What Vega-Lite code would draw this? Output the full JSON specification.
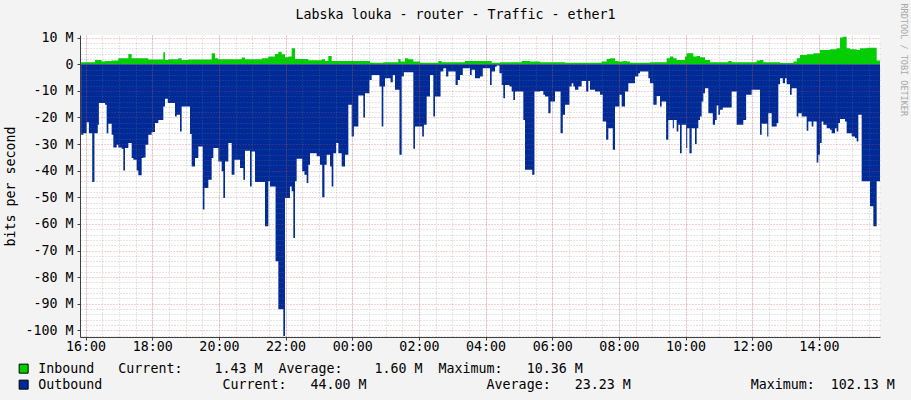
{
  "$schema": "https://vega.github.io/schema/vega-lite/v6.json",
  "width": 800,
  "height": 302,
  "autosize": {"type": "none"},
  "padding": {"left": 80, "top": 35, "right": 31, "bottom": 63},
  "background": "#F3F3F3",
  "config": {"view": {"stroke": null, "fill": "#FFFFFF"}},
  "data": {"values": [
    {"time":"2024-01-01T15:52","series":"Inbound","mbps":0.75},
    {"time":"2024-01-01T16:17","series":"Inbound","mbps":1.6},
    {"time":"2024-01-01T16:29","series":"Inbound","mbps":1.0},
    {"time":"2024-01-01T16:35","series":"Inbound","mbps":1.25},
    {"time":"2024-01-01T16:47","series":"Inbound","mbps":1.4},
    {"time":"2024-01-01T16:59","series":"Inbound","mbps":2.25},
    {"time":"2024-01-01T17:17","series":"Inbound","mbps":3.9},
    {"time":"2024-01-01T17:23","series":"Inbound","mbps":2.25},
    {"time":"2024-01-01T17:53","series":"Inbound","mbps":1.75},
    {"time":"2024-01-01T18:20","series":"Inbound","mbps":4.5},
    {"time":"2024-01-01T18:23","series":"Inbound","mbps":1.6},
    {"time":"2024-01-01T18:29","series":"Inbound","mbps":1.9},
    {"time":"2024-01-01T18:47","series":"Inbound","mbps":2.25},
    {"time":"2024-01-01T18:53","series":"Inbound","mbps":1.6},
    {"time":"2024-01-01T19:05","series":"Inbound","mbps":1.75},
    {"time":"2024-01-01T19:47","series":"Inbound","mbps":4.1},
    {"time":"2024-01-01T19:53","series":"Inbound","mbps":2.25},
    {"time":"2024-01-01T19:59","series":"Inbound","mbps":1.9},
    {"time":"2024-01-01T20:41","series":"Inbound","mbps":2.5},
    {"time":"2024-01-01T20:47","series":"Inbound","mbps":1.9},
    {"time":"2024-01-01T21:17","series":"Inbound","mbps":2.25},
    {"time":"2024-01-01T21:29","series":"Inbound","mbps":2.9},
    {"time":"2024-01-01T21:41","series":"Inbound","mbps":3.9},
    {"time":"2024-01-01T21:47","series":"Inbound","mbps":4.75},
    {"time":"2024-01-01T21:53","series":"Inbound","mbps":3.75},
    {"time":"2024-01-01T21:59","series":"Inbound","mbps":2.6},
    {"time":"2024-01-01T22:05","series":"Inbound","mbps":2.9},
    {"time":"2024-01-01T22:11","series":"Inbound","mbps":6.0},
    {"time":"2024-01-01T22:17","series":"Inbound","mbps":2.0},
    {"time":"2024-01-01T22:41","series":"Inbound","mbps":1.5},
    {"time":"2024-01-01T23:05","series":"Inbound","mbps":1.9},
    {"time":"2024-01-01T23:11","series":"Inbound","mbps":1.25},
    {"time":"2024-01-01T23:17","series":"Inbound","mbps":3.1},
    {"time":"2024-01-01T23:23","series":"Inbound","mbps":1.25},
    {"time":"2024-01-02T00:32","series":"Inbound","mbps":0.6},
    {"time":"2024-01-02T00:56","series":"Inbound","mbps":0.75},
    {"time":"2024-01-02T01:23","series":"Inbound","mbps":2.0},
    {"time":"2024-01-02T01:27","series":"Inbound","mbps":1.0},
    {"time":"2024-01-02T01:35","series":"Inbound","mbps":2.25},
    {"time":"2024-01-02T01:41","series":"Inbound","mbps":1.9},
    {"time":"2024-01-02T01:50","series":"Inbound","mbps":1.0},
    {"time":"2024-01-02T02:02","series":"Inbound","mbps":0.6},
    {"time":"2024-01-02T02:35","series":"Inbound","mbps":1.25},
    {"time":"2024-01-02T02:41","series":"Inbound","mbps":0.75},
    {"time":"2024-01-02T03:23","series":"Inbound","mbps":1.25},
    {"time":"2024-01-02T04:11","series":"Inbound","mbps":0.6},
    {"time":"2024-01-02T04:26","series":"Inbound","mbps":0.75},
    {"time":"2024-01-02T05:05","series":"Inbound","mbps":1.25},
    {"time":"2024-01-02T05:20","series":"Inbound","mbps":1.0},
    {"time":"2024-01-02T05:38","series":"Inbound","mbps":0.75},
    {"time":"2024-01-02T06:23","series":"Inbound","mbps":0.6},
    {"time":"2024-01-02T07:29","series":"Inbound","mbps":1.0},
    {"time":"2024-01-02T07:38","series":"Inbound","mbps":2.0},
    {"time":"2024-01-02T07:44","series":"Inbound","mbps":2.25},
    {"time":"2024-01-02T07:53","series":"Inbound","mbps":1.25},
    {"time":"2024-01-02T07:59","series":"Inbound","mbps":1.0},
    {"time":"2024-01-02T08:08","series":"Inbound","mbps":1.25},
    {"time":"2024-01-02T08:14","series":"Inbound","mbps":1.0},
    {"time":"2024-01-02T08:20","series":"Inbound","mbps":0.6},
    {"time":"2024-01-02T08:56","series":"Inbound","mbps":0.75},
    {"time":"2024-01-02T09:26","series":"Inbound","mbps":2.25},
    {"time":"2024-01-02T09:32","series":"Inbound","mbps":2.9},
    {"time":"2024-01-02T09:38","series":"Inbound","mbps":2.25},
    {"time":"2024-01-02T09:44","series":"Inbound","mbps":1.6},
    {"time":"2024-01-02T09:59","series":"Inbound","mbps":2.9},
    {"time":"2024-01-02T10:02","series":"Inbound","mbps":4.1},
    {"time":"2024-01-02T10:14","series":"Inbound","mbps":2.9},
    {"time":"2024-01-02T10:20","series":"Inbound","mbps":3.1},
    {"time":"2024-01-02T10:26","series":"Inbound","mbps":2.6},
    {"time":"2024-01-02T10:35","series":"Inbound","mbps":1.6},
    {"time":"2024-01-02T10:44","series":"Inbound","mbps":0.75},
    {"time":"2024-01-02T11:17","series":"Inbound","mbps":1.25},
    {"time":"2024-01-02T11:23","series":"Inbound","mbps":0.75},
    {"time":"2024-01-02T12:08","series":"Inbound","mbps":1.4},
    {"time":"2024-01-02T12:14","series":"Inbound","mbps":1.6},
    {"time":"2024-01-02T12:20","series":"Inbound","mbps":0.75},
    {"time":"2024-01-02T12:50","series":"Inbound","mbps":0.5},
    {"time":"2024-01-02T13:14","series":"Inbound","mbps":1.0},
    {"time":"2024-01-02T13:20","series":"Inbound","mbps":2.25},
    {"time":"2024-01-02T13:26","series":"Inbound","mbps":3.5},
    {"time":"2024-01-02T13:38","series":"Inbound","mbps":3.75},
    {"time":"2024-01-02T13:50","series":"Inbound","mbps":4.1},
    {"time":"2024-01-02T14:02","series":"Inbound","mbps":5.4},
    {"time":"2024-01-02T14:20","series":"Inbound","mbps":5.6},
    {"time":"2024-01-02T14:32","series":"Inbound","mbps":6.0},
    {"time":"2024-01-02T14:38","series":"Inbound","mbps":10.1},
    {"time":"2024-01-02T14:43","series":"Inbound","mbps":10.36},
    {"time":"2024-01-02T14:50","series":"Inbound","mbps":6.0},
    {"time":"2024-01-02T14:56","series":"Inbound","mbps":5.6},
    {"time":"2024-01-02T15:08","series":"Inbound","mbps":5.4},
    {"time":"2024-01-02T15:14","series":"Inbound","mbps":6.0},
    {"time":"2024-01-02T15:26","series":"Inbound","mbps":6.25},
    {"time":"2024-01-02T15:44","series":"Inbound","mbps":1.43},
    {"time":"2024-01-02T15:50","series":"Inbound","mbps":1.43},

    {"time":"2024-01-01T15:52","series":"Outbound","mbps":-26.5},
    {"time":"2024-01-01T15:56","series":"Outbound","mbps":-25.9},
    {"time":"2024-01-01T16:02","series":"Outbound","mbps":-21.75},
    {"time":"2024-01-01T16:06","series":"Outbound","mbps":-25.9},
    {"time":"2024-01-01T16:12","series":"Outbound","mbps":-44.25},
    {"time":"2024-01-01T16:16","series":"Outbound","mbps":-25.9},
    {"time":"2024-01-01T16:22","series":"Outbound","mbps":-22.75},
    {"time":"2024-01-01T16:24","series":"Outbound","mbps":-14.6},
    {"time":"2024-01-01T16:35","series":"Outbound","mbps":-15.25},
    {"time":"2024-01-01T16:38","series":"Outbound","mbps":-25.9},
    {"time":"2024-01-01T16:41","series":"Outbound","mbps":-22.4},
    {"time":"2024-01-01T16:47","series":"Outbound","mbps":-26.5},
    {"time":"2024-01-01T16:50","series":"Outbound","mbps":-31.25},
    {"time":"2024-01-01T16:56","series":"Outbound","mbps":-30.25},
    {"time":"2024-01-01T16:59","series":"Outbound","mbps":-31.25},
    {"time":"2024-01-01T17:05","series":"Outbound","mbps":-31.75},
    {"time":"2024-01-01T17:08","series":"Outbound","mbps":-39.9},
    {"time":"2024-01-01T17:11","series":"Outbound","mbps":-31.5},
    {"time":"2024-01-01T17:17","series":"Outbound","mbps":-29.6},
    {"time":"2024-01-01T17:23","series":"Outbound","mbps":-35.25},
    {"time":"2024-01-01T17:26","series":"Outbound","mbps":-35.9},
    {"time":"2024-01-01T17:32","series":"Outbound","mbps":-39.9},
    {"time":"2024-01-01T17:35","series":"Outbound","mbps":-41.75},
    {"time":"2024-01-01T17:41","series":"Outbound","mbps":-35.25},
    {"time":"2024-01-01T17:44","series":"Outbound","mbps":-35.0},
    {"time":"2024-01-01T17:48","series":"Outbound","mbps":-30.25},
    {"time":"2024-01-01T17:53","series":"Outbound","mbps":-26.5},
    {"time":"2024-01-01T17:59","series":"Outbound","mbps":-25.5},
    {"time":"2024-01-01T18:05","series":"Outbound","mbps":-22.1},
    {"time":"2024-01-01T18:11","series":"Outbound","mbps":-20.9},
    {"time":"2024-01-01T18:20","series":"Outbound","mbps":-15.9},
    {"time":"2024-01-01T18:23","series":"Outbound","mbps":-13.0},
    {"time":"2024-01-01T18:28","series":"Outbound","mbps":-14.6},
    {"time":"2024-01-01T18:41","series":"Outbound","mbps":-19.6},
    {"time":"2024-01-01T18:44","series":"Outbound","mbps":-19.0},
    {"time":"2024-01-01T18:50","series":"Outbound","mbps":-25.25},
    {"time":"2024-01-01T18:53","series":"Outbound","mbps":-15.9},
    {"time":"2024-01-01T19:08","series":"Outbound","mbps":-26.25},
    {"time":"2024-01-01T19:11","series":"Outbound","mbps":-38.4},
    {"time":"2024-01-01T19:17","series":"Outbound","mbps":-35.25},
    {"time":"2024-01-01T19:23","series":"Outbound","mbps":-30.9},
    {"time":"2024-01-01T19:31","series":"Outbound","mbps":-54.6},
    {"time":"2024-01-01T19:34","series":"Outbound","mbps":-46.5},
    {"time":"2024-01-01T19:41","series":"Outbound","mbps":-43.4},
    {"time":"2024-01-01T19:47","series":"Outbound","mbps":-35.25},
    {"time":"2024-01-01T19:50","series":"Outbound","mbps":-31.5},
    {"time":"2024-01-01T19:59","series":"Outbound","mbps":-36.5},
    {"time":"2024-01-01T20:05","series":"Outbound","mbps":-40.25},
    {"time":"2024-01-01T20:08","series":"Outbound","mbps":-50.25},
    {"time":"2024-01-01T20:11","series":"Outbound","mbps":-36.5},
    {"time":"2024-01-01T20:17","series":"Outbound","mbps":-29.6},
    {"time":"2024-01-01T20:23","series":"Outbound","mbps":-41.5},
    {"time":"2024-01-01T20:28","series":"Outbound","mbps":-35.9},
    {"time":"2024-01-01T20:38","series":"Outbound","mbps":-39.0},
    {"time":"2024-01-01T20:44","series":"Outbound","mbps":-43.4},
    {"time":"2024-01-01T20:47","series":"Outbound","mbps":-32.5},
    {"time":"2024-01-01T20:56","series":"Outbound","mbps":-45.9},
    {"time":"2024-01-01T20:59","series":"Outbound","mbps":-32.75},
    {"time":"2024-01-01T21:05","series":"Outbound","mbps":-44.25},
    {"time":"2024-01-01T21:23","series":"Outbound","mbps":-60.9},
    {"time":"2024-01-01T21:29","series":"Outbound","mbps":-44.0},
    {"time":"2024-01-01T21:32","series":"Outbound","mbps":-45.9},
    {"time":"2024-01-01T21:42","series":"Outbound","mbps":-74.0},
    {"time":"2024-01-01T21:47","series":"Outbound","mbps":-92.1},
    {"time":"2024-01-01T21:56","series":"Outbound","mbps":-102.13},
    {"time":"2024-01-01T21:59","series":"Outbound","mbps":-50.25},
    {"time":"2024-01-01T22:08","series":"Outbound","mbps":-45.9},
    {"time":"2024-01-01T22:11","series":"Outbound","mbps":-47.75},
    {"time":"2024-01-01T22:14","series":"Outbound","mbps":-65.25},
    {"time":"2024-01-01T22:17","series":"Outbound","mbps":-44.0},
    {"time":"2024-01-01T22:20","series":"Outbound","mbps":-35.5},
    {"time":"2024-01-01T22:30","series":"Outbound","mbps":-40.25},
    {"time":"2024-01-01T22:34","series":"Outbound","mbps":-41.5},
    {"time":"2024-01-01T22:38","series":"Outbound","mbps":-44.6},
    {"time":"2024-01-01T22:41","series":"Outbound","mbps":-37.75},
    {"time":"2024-01-01T22:44","series":"Outbound","mbps":-33.4},
    {"time":"2024-01-01T22:56","series":"Outbound","mbps":-34.6},
    {"time":"2024-01-01T23:02","series":"Outbound","mbps":-37.75},
    {"time":"2024-01-01T23:06","series":"Outbound","mbps":-50.0},
    {"time":"2024-01-01T23:10","series":"Outbound","mbps":-37.75},
    {"time":"2024-01-01T23:14","series":"Outbound","mbps":-34.0},
    {"time":"2024-01-01T23:20","series":"Outbound","mbps":-38.4},
    {"time":"2024-01-01T23:23","series":"Outbound","mbps":-45.9},
    {"time":"2024-01-01T23:26","series":"Outbound","mbps":-33.4},
    {"time":"2024-01-01T23:31","series":"Outbound","mbps":-29.6},
    {"time":"2024-01-01T23:35","series":"Outbound","mbps":-33.4},
    {"time":"2024-01-01T23:41","series":"Outbound","mbps":-38.4},
    {"time":"2024-01-01T23:47","series":"Outbound","mbps":-34.0},
    {"time":"2024-01-01T23:53","series":"Outbound","mbps":-15.25},
    {"time":"2024-01-01T23:59","series":"Outbound","mbps":-27.1},
    {"time":"2024-01-02T00:03","series":"Outbound","mbps":-23.4},
    {"time":"2024-01-02T00:11","series":"Outbound","mbps":-11.75},
    {"time":"2024-01-02T00:20","series":"Outbound","mbps":-20.0},
    {"time":"2024-01-02T00:23","series":"Outbound","mbps":-10.9},
    {"time":"2024-01-02T00:31","series":"Outbound","mbps":-5.9},
    {"time":"2024-01-02T00:35","series":"Outbound","mbps":-4.0},
    {"time":"2024-01-02T00:49","series":"Outbound","mbps":-8.4},
    {"time":"2024-01-02T00:53","series":"Outbound","mbps":-23.4},
    {"time":"2024-01-02T00:56","series":"Outbound","mbps":-8.4},
    {"time":"2024-01-02T00:59","series":"Outbound","mbps":-5.25},
    {"time":"2024-01-02T01:09","series":"Outbound","mbps":-6.75},
    {"time":"2024-01-02T01:13","series":"Outbound","mbps":-4.0},
    {"time":"2024-01-02T01:17","series":"Outbound","mbps":-9.6},
    {"time":"2024-01-02T01:25","series":"Outbound","mbps":-34.0},
    {"time":"2024-01-02T01:29","series":"Outbound","mbps":-4.6},
    {"time":"2024-01-02T01:33","series":"Outbound","mbps":-3.0},
    {"time":"2024-01-02T01:50","series":"Outbound","mbps":-31.75},
    {"time":"2024-01-02T01:53","series":"Outbound","mbps":-23.4},
    {"time":"2024-01-02T02:06","series":"Outbound","mbps":-27.1},
    {"time":"2024-01-02T02:09","series":"Outbound","mbps":-22.75},
    {"time":"2024-01-02T02:14","series":"Outbound","mbps":-12.1},
    {"time":"2024-01-02T02:20","series":"Outbound","mbps":-4.0},
    {"time":"2024-01-02T02:26","series":"Outbound","mbps":-19.6},
    {"time":"2024-01-02T02:29","series":"Outbound","mbps":-12.1},
    {"time":"2024-01-02T02:39","series":"Outbound","mbps":-2.75},
    {"time":"2024-01-02T02:44","series":"Outbound","mbps":-1.5},
    {"time":"2024-01-02T02:49","series":"Outbound","mbps":-4.6},
    {"time":"2024-01-02T02:53","series":"Outbound","mbps":-2.75},
    {"time":"2024-01-02T03:06","series":"Outbound","mbps":-7.75},
    {"time":"2024-01-02T03:10","series":"Outbound","mbps":-5.9},
    {"time":"2024-01-02T03:14","series":"Outbound","mbps":-4.0},
    {"time":"2024-01-02T03:19","series":"Outbound","mbps":-1.5},
    {"time":"2024-01-02T03:32","series":"Outbound","mbps":-4.0},
    {"time":"2024-01-02T03:35","series":"Outbound","mbps":-2.1},
    {"time":"2024-01-02T03:41","series":"Outbound","mbps":-5.25},
    {"time":"2024-01-02T03:50","series":"Outbound","mbps":-4.6},
    {"time":"2024-01-02T03:55","series":"Outbound","mbps":-1.5},
    {"time":"2024-01-02T04:08","series":"Outbound","mbps":-7.75},
    {"time":"2024-01-02T04:11","series":"Outbound","mbps":-2.75},
    {"time":"2024-01-02T04:17","series":"Outbound","mbps":-0.9},
    {"time":"2024-01-02T04:20","series":"Outbound","mbps":-0.5},
    {"time":"2024-01-02T04:25","series":"Outbound","mbps":-3.4},
    {"time":"2024-01-02T04:29","series":"Outbound","mbps":-7.75},
    {"time":"2024-01-02T04:32","series":"Outbound","mbps":-12.75},
    {"time":"2024-01-02T04:35","series":"Outbound","mbps":-7.75},
    {"time":"2024-01-02T04:43","series":"Outbound","mbps":-8.4},
    {"time":"2024-01-02T04:47","series":"Outbound","mbps":-10.25},
    {"time":"2024-01-02T04:50","series":"Outbound","mbps":-13.4},
    {"time":"2024-01-02T04:53","series":"Outbound","mbps":-10.25},
    {"time":"2024-01-02T05:08","series":"Outbound","mbps":-20.9},
    {"time":"2024-01-02T05:11","series":"Outbound","mbps":-39.6},
    {"time":"2024-01-02T05:24","series":"Outbound","mbps":-41.5},
    {"time":"2024-01-02T05:28","series":"Outbound","mbps":-10.25},
    {"time":"2024-01-02T05:38","series":"Outbound","mbps":-10.0},
    {"time":"2024-01-02T05:44","series":"Outbound","mbps":-11.5},
    {"time":"2024-01-02T05:47","series":"Outbound","mbps":-12.1},
    {"time":"2024-01-02T05:53","series":"Outbound","mbps":-18.4},
    {"time":"2024-01-02T05:57","series":"Outbound","mbps":-14.0},
    {"time":"2024-01-02T06:05","series":"Outbound","mbps":-10.25},
    {"time":"2024-01-02T06:15","series":"Outbound","mbps":-25.9},
    {"time":"2024-01-02T06:19","series":"Outbound","mbps":-19.0},
    {"time":"2024-01-02T06:23","series":"Outbound","mbps":-15.25},
    {"time":"2024-01-02T06:31","series":"Outbound","mbps":-8.4},
    {"time":"2024-01-02T06:35","series":"Outbound","mbps":-7.1},
    {"time":"2024-01-02T06:38","series":"Outbound","mbps":-8.4},
    {"time":"2024-01-02T06:41","series":"Outbound","mbps":-9.6},
    {"time":"2024-01-02T06:47","series":"Outbound","mbps":-8.4},
    {"time":"2024-01-02T06:53","series":"Outbound","mbps":-6.25},
    {"time":"2024-01-02T07:01","series":"Outbound","mbps":-10.25},
    {"time":"2024-01-02T07:05","series":"Outbound","mbps":-6.25},
    {"time":"2024-01-02T07:08","series":"Outbound","mbps":-9.6},
    {"time":"2024-01-02T07:17","series":"Outbound","mbps":-10.25},
    {"time":"2024-01-02T07:26","series":"Outbound","mbps":-11.5},
    {"time":"2024-01-02T07:31","series":"Outbound","mbps":-21.5},
    {"time":"2024-01-02T07:37","series":"Outbound","mbps":-28.4},
    {"time":"2024-01-02T07:41","series":"Outbound","mbps":-24.0},
    {"time":"2024-01-02T07:49","series":"Outbound","mbps":-32.1},
    {"time":"2024-01-02T07:53","series":"Outbound","mbps":-15.9},
    {"time":"2024-01-02T08:01","series":"Outbound","mbps":-11.5},
    {"time":"2024-01-02T08:05","series":"Outbound","mbps":-15.9},
    {"time":"2024-01-02T08:11","series":"Outbound","mbps":-10.25},
    {"time":"2024-01-02T08:17","series":"Outbound","mbps":-7.1},
    {"time":"2024-01-02T08:29","series":"Outbound","mbps":-4.6},
    {"time":"2024-01-02T08:35","series":"Outbound","mbps":-3.4},
    {"time":"2024-01-02T08:38","series":"Outbound","mbps":-2.75},
    {"time":"2024-01-02T08:53","series":"Outbound","mbps":-5.25},
    {"time":"2024-01-02T08:56","series":"Outbound","mbps":-7.1},
    {"time":"2024-01-02T09:02","series":"Outbound","mbps":-15.25},
    {"time":"2024-01-02T09:08","series":"Outbound","mbps":-11.9},
    {"time":"2024-01-02T09:14","series":"Outbound","mbps":-15.9},
    {"time":"2024-01-02T09:17","series":"Outbound","mbps":-14.0},
    {"time":"2024-01-02T09:25","series":"Outbound","mbps":-28.4},
    {"time":"2024-01-02T09:29","series":"Outbound","mbps":-20.9},
    {"time":"2024-01-02T09:37","series":"Outbound","mbps":-24.0},
    {"time":"2024-01-02T09:39","series":"Outbound","mbps":-20.9},
    {"time":"2024-01-02T09:44","series":"Outbound","mbps":-25.25},
    {"time":"2024-01-02T09:47","series":"Outbound","mbps":-22.75},
    {"time":"2024-01-02T09:50","series":"Outbound","mbps":-33.4},
    {"time":"2024-01-02T09:53","series":"Outbound","mbps":-22.75},
    {"time":"2024-01-02T10:01","series":"Outbound","mbps":-31.5},
    {"time":"2024-01-02T10:03","series":"Outbound","mbps":-24.0},
    {"time":"2024-01-02T10:07","series":"Outbound","mbps":-33.4},
    {"time":"2024-01-02T10:11","series":"Outbound","mbps":-24.0},
    {"time":"2024-01-02T10:17","series":"Outbound","mbps":-30.0},
    {"time":"2024-01-02T10:20","series":"Outbound","mbps":-24.0},
    {"time":"2024-01-02T10:23","series":"Outbound","mbps":-20.9},
    {"time":"2024-01-02T10:26","series":"Outbound","mbps":-19.6},
    {"time":"2024-01-02T10:29","series":"Outbound","mbps":-14.0},
    {"time":"2024-01-02T10:32","series":"Outbound","mbps":-10.9},
    {"time":"2024-01-02T10:35","series":"Outbound","mbps":-9.0},
    {"time":"2024-01-02T10:41","series":"Outbound","mbps":-18.4},
    {"time":"2024-01-02T10:49","series":"Outbound","mbps":-22.75},
    {"time":"2024-01-02T10:53","series":"Outbound","mbps":-20.9},
    {"time":"2024-01-02T10:56","series":"Outbound","mbps":-15.5},
    {"time":"2024-01-02T10:59","series":"Outbound","mbps":-19.0},
    {"time":"2024-01-02T11:02","series":"Outbound","mbps":-17.1},
    {"time":"2024-01-02T11:07","series":"Outbound","mbps":-16.25},
    {"time":"2024-01-02T11:23","series":"Outbound","mbps":-10.25},
    {"time":"2024-01-02T11:32","series":"Outbound","mbps":-22.75},
    {"time":"2024-01-02T11:44","series":"Outbound","mbps":-20.9},
    {"time":"2024-01-02T11:49","series":"Outbound","mbps":-11.5},
    {"time":"2024-01-02T11:59","series":"Outbound","mbps":-9.6},
    {"time":"2024-01-02T12:14","series":"Outbound","mbps":-26.5},
    {"time":"2024-01-02T12:17","series":"Outbound","mbps":-22.4},
    {"time":"2024-01-02T12:27","series":"Outbound","mbps":-27.1},
    {"time":"2024-01-02T12:29","series":"Outbound","mbps":-18.4},
    {"time":"2024-01-02T12:35","series":"Outbound","mbps":-23.4},
    {"time":"2024-01-02T12:44","series":"Outbound","mbps":-22.1},
    {"time":"2024-01-02T12:47","series":"Outbound","mbps":-7.5},
    {"time":"2024-01-02T12:50","series":"Outbound","mbps":-5.25},
    {"time":"2024-01-02T12:55","series":"Outbound","mbps":-7.1},
    {"time":"2024-01-02T12:59","series":"Outbound","mbps":-5.25},
    {"time":"2024-01-02T13:02","series":"Outbound","mbps":-7.5},
    {"time":"2024-01-02T13:08","series":"Outbound","mbps":-11.5},
    {"time":"2024-01-02T13:11","series":"Outbound","mbps":-9.0},
    {"time":"2024-01-02T13:20","series":"Outbound","mbps":-19.6},
    {"time":"2024-01-02T13:23","series":"Outbound","mbps":-18.4},
    {"time":"2024-01-02T13:29","series":"Outbound","mbps":-19.6},
    {"time":"2024-01-02T13:38","series":"Outbound","mbps":-25.0},
    {"time":"2024-01-02T13:41","series":"Outbound","mbps":-21.5},
    {"time":"2024-01-02T13:47","series":"Outbound","mbps":-23.4},
    {"time":"2024-01-02T13:50","series":"Outbound","mbps":-21.5},
    {"time":"2024-01-02T13:56","series":"Outbound","mbps":-36.9},
    {"time":"2024-01-02T13:59","series":"Outbound","mbps":-34.0},
    {"time":"2024-01-02T14:02","series":"Outbound","mbps":-29.6},
    {"time":"2024-01-02T14:05","series":"Outbound","mbps":-21.5},
    {"time":"2024-01-02T14:08","series":"Outbound","mbps":-22.75},
    {"time":"2024-01-02T14:14","series":"Outbound","mbps":-24.0},
    {"time":"2024-01-02T14:20","series":"Outbound","mbps":-24.6},
    {"time":"2024-01-02T14:23","series":"Outbound","mbps":-25.9},
    {"time":"2024-01-02T14:29","series":"Outbound","mbps":-24.0},
    {"time":"2024-01-02T14:32","series":"Outbound","mbps":-25.25},
    {"time":"2024-01-02T14:35","series":"Outbound","mbps":-22.1},
    {"time":"2024-01-02T14:38","series":"Outbound","mbps":-20.6},
    {"time":"2024-01-02T14:47","series":"Outbound","mbps":-21.5},
    {"time":"2024-01-02T14:50","series":"Outbound","mbps":-25.9},
    {"time":"2024-01-02T14:59","series":"Outbound","mbps":-27.1},
    {"time":"2024-01-02T15:05","series":"Outbound","mbps":-27.75},
    {"time":"2024-01-02T15:08","series":"Outbound","mbps":-29.0},
    {"time":"2024-01-02T15:11","series":"Outbound","mbps":-19.0},
    {"time":"2024-01-02T15:17","series":"Outbound","mbps":-44.0},
    {"time":"2024-01-02T15:32","series":"Outbound","mbps":-53.4},
    {"time":"2024-01-02T15:38","series":"Outbound","mbps":-60.9},
    {"time":"2024-01-02T15:44","series":"Outbound","mbps":-44.0},
    {"time":"2024-01-02T15:50","series":"Outbound","mbps":-44.0}
  ]},
  "layer": [
    {
      "transform": [{"filter": "datum.series == 'Inbound'"}],
      "mark": {"type": "area", "interpolate": "step-after", "opacity": 1, "clip": true},
      "encoding": {
        "x": {
          "field": "time", "type": "temporal",
          "scale": {"domain": [{"year": 2024, "month": 1, "date": 1, "hours": 15, "minutes": 50}, {"year": 2024, "month": 1, "date": 2, "hours": 15, "minutes": 50}], "nice": false},
          "axis": {"orient": "top", "grid": true, "gridColor": "#808080", "gridOpacity": 0.4, "gridDash": [1, 2], "ticks": false, "labels": false, "domain": false,
                   "tickCount": 48,
                   "title": "Labska louka - router - Traffic - ether1", "titleFont": "DejaVu Sans Mono", "titleFontSize": 13.3, "titleFontWeight": "normal", "titleColor": "#000000",
                   "titleX": 375, "titleY": -21, "titleAlign": "center", "titleBaseline": "middle", "titleAngle": 0, "zindex": 1}
        },
        "y": {
          "field": "mbps", "type": "quantitative", "stack": null,
          "scale": {"domain": [-102.5, 11], "nice": false, "zero": false},
          "axis": {"orient": "right", "grid": true, "gridColor": "#808080", "gridOpacity": 0.4, "gridDash": [1, 2], "ticks": false, "labels": false, "domain": false,
                   "values": [-102,-98,-96,-94,-92,-88,-86,-84,-82,-78,-76,-74,-72,-68,-66,-64,-62,-58,-56,-54,-52,-48,-46,-44,-42,-38,-36,-34,-32,-28,-26,-24,-22,-18,-16,-14,-12,-8,-6,-4,-2,2,4,6,8],
                   "title": "RRDTOOL / TOBI OETIKER", "titleFont": "DejaVu Sans Mono", "titleFontSize": 8.5, "titleFontWeight": "normal", "titleColor": "#A8A8A8",
                   "titleAngle": 90, "titleX": 23, "titleY": -32, "titleAlign": "left", "titleBaseline": "middle", "zindex": 1}
        },
        "color": {
          "field": "series", "type": "nominal",
          "scale": {"domain": ["Inbound", "Outbound"], "range": ["#00CF00", "#002A97"]},
          "legend": {"title": null, "orient": "none", "legendX": -63, "legendY": 327, "direction": "vertical",
                     "symbolType": "square", "symbolSize": 81, "symbolStrokeColor": "#000000", "symbolStrokeWidth": 1, "symbolOpacity": 1,
                     "labelFont": "DejaVu Sans Mono", "labelFontSize": 13.3, "labelColor": "#000000", "labelOffset": 8, "labelLimit": 0, "rowPadding": 1, "padding": 0,
                     "labelExpr": "datum.label == 'Inbound' ? 'Inbound\u00a0\u00a0\u00a0Current:\u00a0\u00a0\u00a0\u00a01.43\u00a0M\u00a0\u00a0Average:\u00a0\u00a0\u00a0\u00a01.60\u00a0M\u00a0\u00a0Maximum:\u00a0\u00a0\u00a010.36\u00a0M' : 'Outbound\u00a0\u00a0\u00a0\u00a0\u00a0\u00a0\u00a0\u00a0\u00a0\u00a0\u00a0\u00a0\u00a0\u00a0\u00a0Current:\u00a0\u00a0\u00a044.00\u00a0M\u00a0\u00a0\u00a0\u00a0\u00a0\u00a0\u00a0\u00a0\u00a0\u00a0\u00a0\u00a0\u00a0\u00a0\u00a0Average:\u00a0\u00a0\u00a023.23\u00a0M\u00a0\u00a0\u00a0\u00a0\u00a0\u00a0\u00a0\u00a0\u00a0\u00a0\u00a0\u00a0\u00a0\u00a0\u00a0Maximum:\u00a0\u00a0102.13\u00a0M'"}
        }
      }
    },
    {
      "transform": [{"filter": "datum.series == 'Outbound'"}],
      "mark": {"type": "area", "interpolate": "step-after", "opacity": 1, "clip": true},
      "encoding": {
        "x": {
          "field": "time", "type": "temporal",
          "axis": {"orient": "bottom", "grid": true, "gridColor": "#D04848", "gridOpacity": 0.5, "gridDash": [1, 2],
                   "values": [
                     {"year": 2024, "month": 1, "date": 1, "hours": 16},
                     {"year": 2024, "month": 1, "date": 1, "hours": 18},
                     {"year": 2024, "month": 1, "date": 1, "hours": 20},
                     {"year": 2024, "month": 1, "date": 1, "hours": 22},
                     {"year": 2024, "month": 1, "date": 2, "hours": 0},
                     {"year": 2024, "month": 1, "date": 2, "hours": 2},
                     {"year": 2024, "month": 1, "date": 2, "hours": 4},
                     {"year": 2024, "month": 1, "date": 2, "hours": 6},
                     {"year": 2024, "month": 1, "date": 2, "hours": 8},
                     {"year": 2024, "month": 1, "date": 2, "hours": 10},
                     {"year": 2024, "month": 1, "date": 2, "hours": 12},
                     {"year": 2024, "month": 1, "date": 2, "hours": 14}
                   ],
                   "format": "%H:%M",
                   "labelFont": "DejaVu Sans Mono", "labelFontSize": 13.3, "labelColor": "#000000", "labelPadding": -1, "labelFlush": false, "labelOverlap": false,
                   "ticks": true, "tickSize": 3, "tickColor": "#404040", "domain": true, "domainColor": "#404040", "title": null, "zindex": 1}
        },
        "y": {
          "field": "mbps", "type": "quantitative", "stack": null,
          "axis": {"orient": "left", "grid": true, "gridColor": "#D04848", "gridOpacity": 0.5, "gridDash": [1, 2],
                   "values": [-100, -90, -80, -70, -60, -50, -40, -30, -20, -10, 0, 10],
                   "labelExpr": "datum.value == 0 ? '0' : datum.value + '\u00a0M'",
                   "labelFont": "DejaVu Sans Mono", "labelFontSize": 13.3, "labelColor": "#000000", "labelPadding": 4, "labelFlush": false, "labelOverlap": false,
                   "ticks": true, "tickSize": 3, "tickColor": "#404040", "domain": true, "domainColor": "#404040",
                   "title": "bits per second", "titleFont": "DejaVu Sans Mono", "titleFontSize": 13.3, "titleFontWeight": "normal", "titleColor": "#000000",
                   "titleAngle": 270, "titleX": -70, "titleY": 151, "titleAlign": "center", "titleBaseline": "middle", "zindex": 1}
        },
        "color": {
          "field": "series", "type": "nominal",
          "scale": {"domain": ["Inbound", "Outbound"], "range": ["#00CF00", "#002A97"]},
          "legend": {"title": null, "orient": "none", "legendX": -63, "legendY": 327, "direction": "vertical",
                     "symbolType": "square", "symbolSize": 81, "symbolStrokeColor": "#000000", "symbolStrokeWidth": 1, "symbolOpacity": 1,
                     "labelFont": "DejaVu Sans Mono", "labelFontSize": 13.3, "labelColor": "#000000", "labelOffset": 8, "labelLimit": 0, "rowPadding": 1, "padding": 0,
                     "labelExpr": "datum.label == 'Inbound' ? 'Inbound\u00a0\u00a0\u00a0Current:\u00a0\u00a0\u00a0\u00a01.43\u00a0M\u00a0\u00a0Average:\u00a0\u00a0\u00a0\u00a01.60\u00a0M\u00a0\u00a0Maximum:\u00a0\u00a0\u00a010.36\u00a0M' : 'Outbound\u00a0\u00a0\u00a0\u00a0\u00a0\u00a0\u00a0\u00a0\u00a0\u00a0\u00a0\u00a0\u00a0\u00a0\u00a0Current:\u00a0\u00a0\u00a044.00\u00a0M\u00a0\u00a0\u00a0\u00a0\u00a0\u00a0\u00a0\u00a0\u00a0\u00a0\u00a0\u00a0\u00a0\u00a0\u00a0Average:\u00a0\u00a0\u00a023.23\u00a0M\u00a0\u00a0\u00a0\u00a0\u00a0\u00a0\u00a0\u00a0\u00a0\u00a0\u00a0\u00a0\u00a0\u00a0\u00a0Maximum:\u00a0\u00a0102.13\u00a0M'"}
        }
      }
    }
  ],
  "resolve": {"axis": {"x": "independent", "y": "independent"}}
}
